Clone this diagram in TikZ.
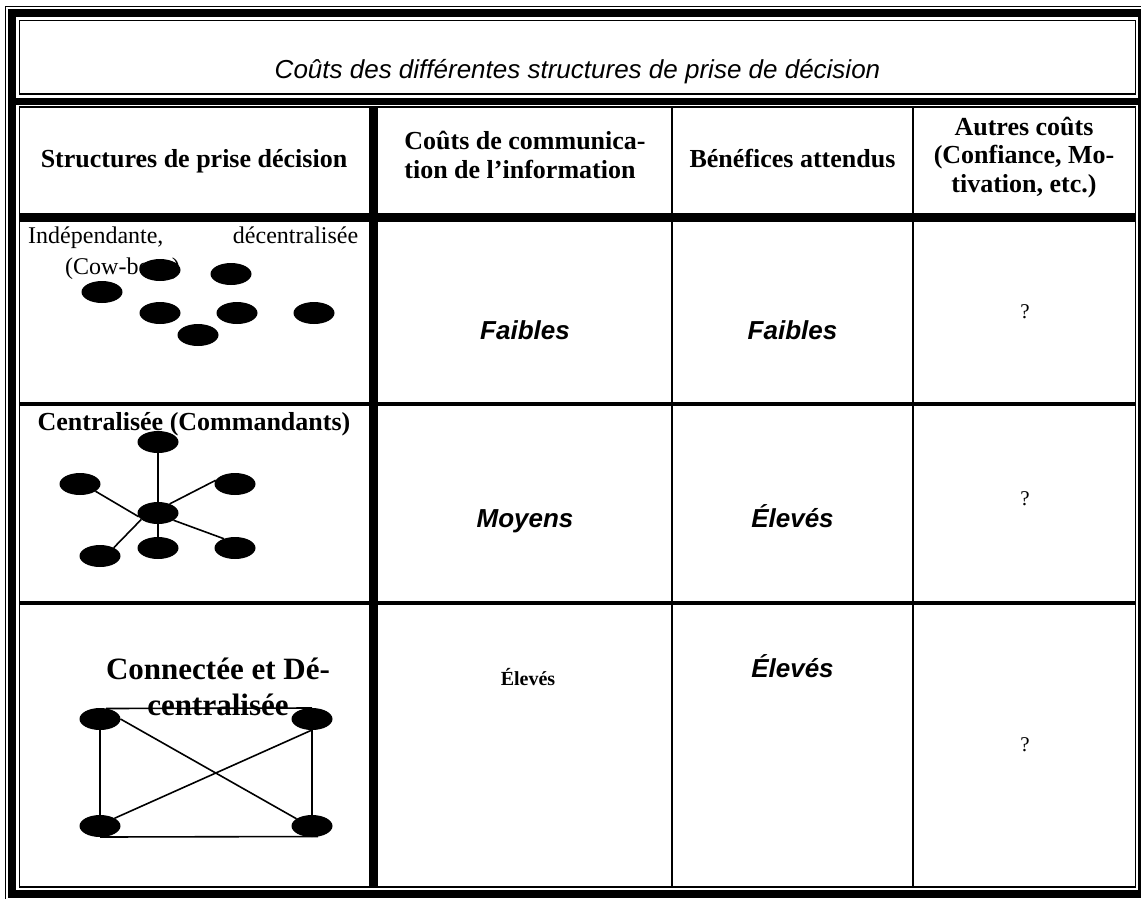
\documentclass[tikz,border=0pt]{standalone}
\usepackage{fontspec}
\setmainfont{Liberation Serif}
\setsansfont{Liberation Sans}
\usetikzlibrary{shapes}

\begin{document}
\begin{tikzpicture}[x=1pt,y=-1pt,
  hairline/.style={line width=1.5pt},
  band/.style={line width=8pt},
  rowline/.style={line width=3.5pt},
  colline/.style={line width=2pt},
  dot/.style={ellipse,fill=black,inner sep=0pt,outer sep=0pt,minimum width=41pt,minimum height=22pt},
  hdr/.style={font=\bfseries\fontsize{26}{28.5}\selectfont,inner sep=0pt},
  val/.style={font=\sffamily\bfseries\itshape\fontsize{26}{30}\selectfont,inner sep=0pt,anchor=base},
  qmark/.style={font=\fontsize{21}{24}\selectfont,inner sep=0pt,anchor=base},
  link/.style={line width=1.6pt}
]
\useasboundingbox (0,0) rectangle (1141,898);
\clip (0,0) rectangle (1141,898);
\fill[white] (0,0) rectangle (1141,898);

% the frame
\draw[hairline] (5.5,6.5) rectangle (1150,910);
\draw[band] (11.5,13) rectangle (1142,894);
\draw[line width=7pt] (8,101.5) -- (1141,101.5);
\draw[hairline] (19.5,20.5) rectangle (1135.5,94);
\draw[hairline] (19.5,107) rectangle (1135.5,887);

% the grid
\draw[line width=9pt] (373.5,107) -- (373.5,887);
\draw[line width=9pt] (19.5,217.5) -- (1135.5,217.5);
\draw[colline] (672,107) -- (672,887);
\draw[colline] (913,107) -- (913,887);
\draw[rowline] (19.5,404) -- (1135.5,404);
\draw[rowline] (19.5,603) -- (1135.5,603);

% the title
\node[font=\sffamily\itshape\fontsize{26}{30}\selectfont,inner sep=0pt,anchor=base] (titre) at (577.5,78)
  {Coûts des différentes structures de prise de décision};

% the header row
\node[hdr,anchor=base] (h1) at (194,167) {Structures de prise décision};
\node[hdr,align=left] (h2) at (525,155) {Coûts de communica-\\tion de l’information};
\node[hdr,anchor=base] (h3) at (792.5,167) {Bénéfices attendus};
\node[hdr,align=center] (h4) at (1024,157.5) {Autres coûts\\(Confiance, Mo-\\tivation, etc.)};

% row 1: cow-boys
\node[font=\fontsize{24}{31}\selectfont,inner sep=0pt,align=left,anchor=north west] (r1) at (28,227)
  {\makebox[330pt][s]{Indépendante, décentralisée}\\\hspace*{37pt}(Cow-boys)};
\node[dot] (cb1) at (160,270) {};
\node[dot] (cb2) at (231,274) {};
\node[dot] (cb3) at (102,292) {};
\node[dot] (cb4) at (160,313) {};
\node[dot] (cb5) at (237,313) {};
\node[dot] (cb6) at (314,313) {};
\node[dot] (cb7) at (198,335) {};

% row 2: commandants
\node[hdr,anchor=base] (r2) at (194,430) {Centralisée (Commandants)};
\node[dot] (ctop) at (158,442) {};
\node[dot] (cleft) at (80,484) {};
\node[dot] (cright) at (235,484) {};
\node[dot] (chub) at (158,513) {};
\node[dot] (cbl) at (100,556) {};
\node[dot] (cbm) at (158,548) {};
\node[dot] (cbr) at (235,548) {};
\draw[link] (ctop) -- (chub);
\draw[link] (chub) -- (cbm);
\draw[link] (chub.191) -- (cleft.-25);
\draw[link] (chub.38) -- (cright.169);
\draw[link] (chub.-25) -- (cbr.140);
\draw[link] (chub.201) -- (cbl.31);

% row 3: connected
\node[font=\bfseries\fontsize{31}{36}\selectfont,inner sep=0pt,align=center] (r3) at (218,686.5)
  {Connectée et Dé-\\centralisée};
\node[dot] (nw) at (100,719) {};
\node[dot] (ne) at (312,719) {};
\node[dot] (sw) at (100,826) {};
\node[dot] (se) at (312,826) {};
\draw[link] (nw.60) -- (ne.north);
\draw[link] (sw.south) -- (se.-60);
\draw[link] (nw) -- (sw);
\draw[link] (ne) -- (se);
\draw[link] (nw.east) -- (se.155);
\draw[link] (ne.south) -- (sw.28);

% the values
\node[val] (f1) at (525,339.5) {Faibles};
\node[val] (f2) at (792.5,339.5) {Faibles};
\node[qmark] (q1) at (1025,318) {?};
\node[val] (m1) at (525,527) {Moyens};
\node[val] (e1) at (792.5,527) {Élevés};
\node[qmark] (q2) at (1025,505) {?};
\node[font=\bfseries\fontsize{20}{24}\selectfont,inner sep=0pt,anchor=base] (e2) at (528,685) {Élevés};
\node[val] (e3) at (792.5,677) {Élevés};
\node[qmark] (q3) at (1025,751) {?};
\end{tikzpicture}
\end{document}
